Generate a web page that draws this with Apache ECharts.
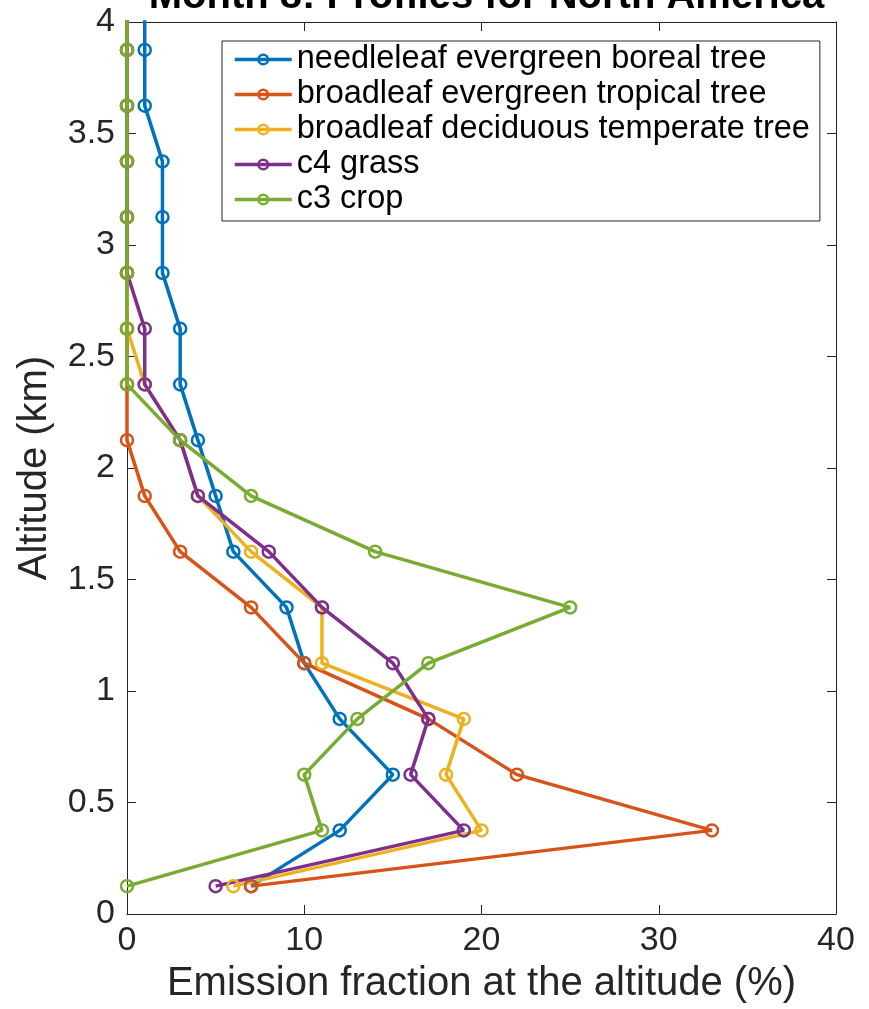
<!DOCTYPE html>
<html><head><meta charset="utf-8">
<script src="https://cdn.jsdelivr.net/npm/echarts@6/dist/echarts.min.js"></script>
<style>html,body{margin:0;padding:0;background:#fff}#c{width:869px;height:1009px}</style>
</head><body><div id="c"></div>
<script>
const altitudes = [0.125,0.375,0.625,0.875,1.125,1.375,1.625,1.875,2.125,2.375,2.625,2.875,3.125,3.375,3.625,3.875,4.125];
const seriesNames = ['needleleaf evergreen boreal tree','broadleaf evergreen tropical tree','broadleaf deciduous temperate tree','c4 grass','c3 crop'];
const needleleaf = [7,12,15,12,10,9,6,5,4,3,3,2,2,2,1,1,1];
const broadTropical = [7,33,22,17,10,7,3,1,0,0,0,0,0,0,0,0,0];
const broadTemperate = [6,20,18,19,11,11,7,4,3,1,0,0,0,0,0,0,0];
const c4grass = [5,19,16,17,15,11,8,4,3,1,1,0,0,0,0,0,0];
const c3crop = [0,11,10,13,17,25,14,7,3,0,0,0,0,0,0,0,0];
const colors = ['#0072BD','#D95319','#EDB120','#7E2F8E','#77AC30'];
const xTicks = {min:0,max:40,interval:10};
const yTicks = {min:0,max:4,interval:0.5};

const font = 'Liberation Sans, Arial, Helvetica, sans-serif';
const allData = [needleleaf, broadTropical, broadTemperate, c4grass, c3crop];
const chart = echarts.init(document.getElementById('c'), null, {renderer:'canvas'});
const mkLine = () => ({show:true, onZero:false, lineStyle:{color:'#262626', width:1}});
const mkTick = () => ({show:true, inside:true, length:9, lineStyle:{color:'#262626', width:1}});
chart.setOption({
  animation:false,
  color: colors,
  title:{text:'Month 8: Profiles for North America', left:481.5, textAlign:'center', top:-28,
    textStyle:{fontFamily:font, fontSize:40, fontWeight:'bold', color:'#000'}},
  legend:{
    orient:'vertical', left:222, top:41,
    backgroundColor:'#fff', borderColor:'#262626', borderWidth:1,
    padding:[1,10,4,11], itemGap:0, itemWidth:57, itemHeight:12,
    lineStyle:{width:3.5}, itemStyle:{borderWidth:2.5},
    textStyle:{fontFamily:font, fontSize:32.5, color:'#000', lineHeight:35},
    data: seriesNames
  },
  grid:{left:127, right:33, top:22, bottom:93, containLabel:false},
  xAxis:[{
    type:'value', min:xTicks.min, max:xTicks.max, interval:xTicks.interval,
    position:'bottom',
    name:'Emission fraction at the altitude (%)', nameLocation:'middle', nameGap:50,
    nameTextStyle:{fontFamily:font, fontSize:40, color:'#262626'},
    axisLine:mkLine(), axisTick:mkTick(), splitLine:{show:false},
    axisLabel:{fontFamily:font, fontSize:34, color:'#262626', margin:10}
  },{
    type:'value', min:xTicks.min, max:xTicks.max, interval:xTicks.interval,
    position:'top', axisLine:mkLine(), axisTick:mkTick(), axisLabel:{show:false}, splitLine:{show:false}
  }],
  yAxis:[{
    type:'value', min:yTicks.min, max:yTicks.max, interval:yTicks.interval,
    position:'left',
    name:'Altitude (km)', nameLocation:'middle', nameGap:72, nameRotate:90,
    nameTextStyle:{fontFamily:font, fontSize:40, color:'#262626'},
    axisLine:mkLine(), axisTick:mkTick(), splitLine:{show:false},
    axisLabel:{fontFamily:font, fontSize:34, color:'#262626', margin:12}
  },{
    type:'value', min:yTicks.min, max:yTicks.max, interval:yTicks.interval,
    position:'right', axisLine:mkLine(), axisTick:mkTick(), axisLabel:{show:false}, splitLine:{show:false}
  }],
  series: seriesNames.map((n,i)=>({
    name:n, type:'line', xAxisIndex:0, yAxisIndex:0,
    data: allData[i].map((v,k)=>[v, altitudes[k]]),
    symbol:'circle', symbolSize:12, clip:true,
    lineStyle:{width:3.5, color:colors[i]},
    itemStyle:{color:'rgba(255,255,255,0)', borderWidth:2.5, borderColor:colors[i]}
  }))
});
</script></body></html>
